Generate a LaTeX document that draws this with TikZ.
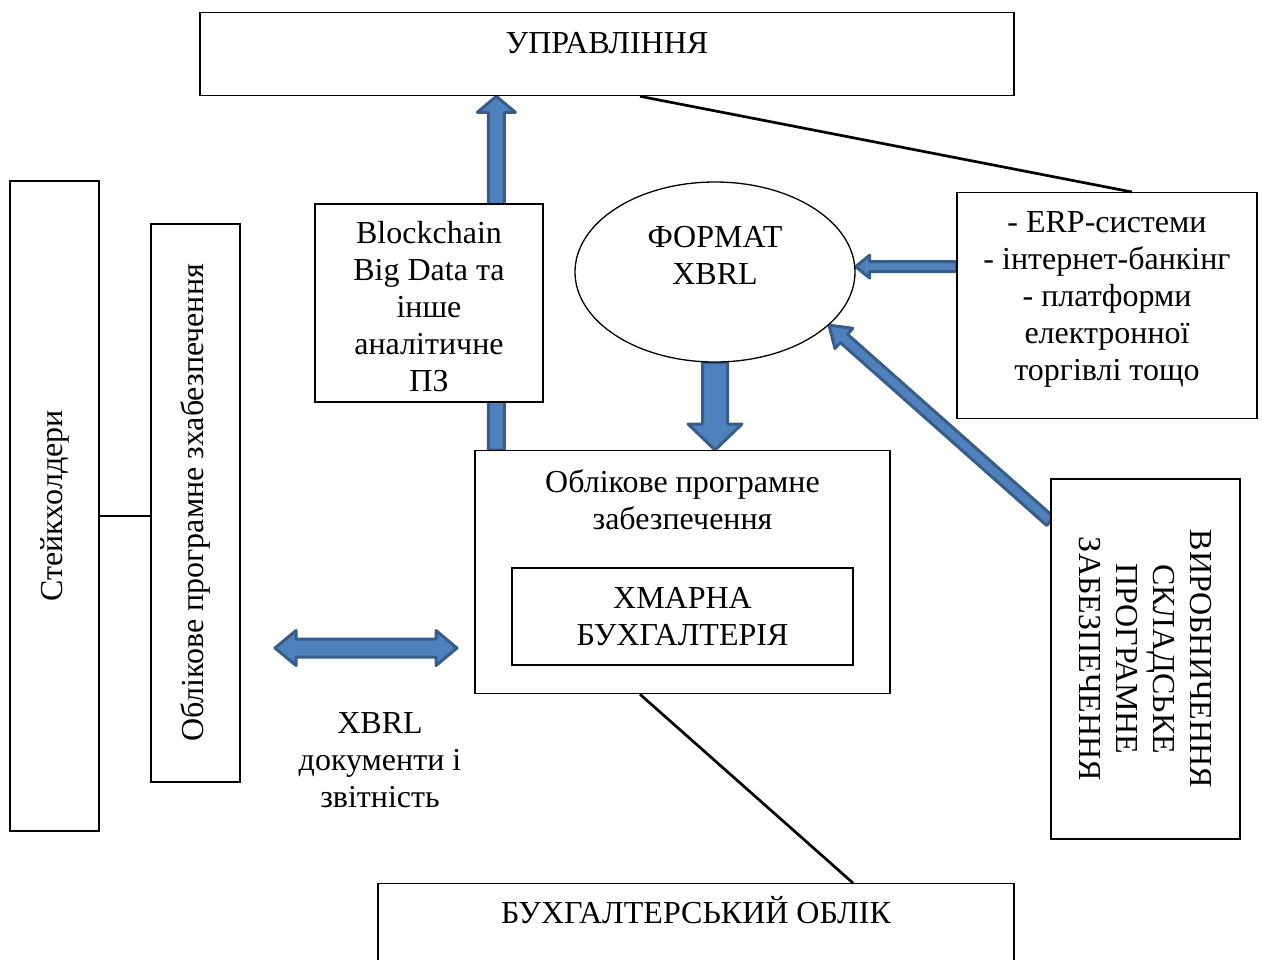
\documentclass[tikz,border=0pt]{standalone}
\usepackage{fontspec}
\setmainfont{Liberation Serif}
\usepackage{xcolor}
\usetikzlibrary{shapes.geometric, calc, backgrounds}

\definecolor{arrowfill}{HTML}{4F81BD}
\definecolor{arrowline}{HTML}{385D8A}

% block arrow: from, to, half shaft, half head, head length
\newcommand{\blockarrow}[5]{%
  \coordinate (ba-c) at ($(#2)!#5!(#1)$);
  \filldraw[fatarrow] ($(#1)!#3!90:(#2)$) -- ($(ba-c)!#3!90:(#2)$) -- ($(ba-c)!#4!90:(#2)$) -- (#2)
    -- ($(ba-c)!#4!-90:(#2)$) -- ($(ba-c)!#3!-90:(#2)$) -- ($(#1)!#3!-90:(#2)$) -- cycle;}
% two-headed block arrow
\newcommand{\blockdarrow}[5]{%
  \coordinate (ba-a) at ($(#1)!#5!(#2)$);
  \coordinate (ba-b) at ($(#2)!#5!(#1)$);
  \filldraw[fatarrow] (#1) -- ($(ba-a)!#4!90:(#2)$) -- ($(ba-a)!#3!90:(#2)$) -- ($(ba-b)!#3!90:(#2)$)
    -- ($(ba-b)!#4!90:(#2)$) -- (#2) -- ($(ba-b)!#4!-90:(#2)$) -- ($(ba-b)!#3!-90:(#2)$)
    -- ($(ba-a)!#3!-90:(#2)$) -- ($(ba-a)!#4!-90:(#2)$) -- cycle;}

\begin{document}
\begin{tikzpicture}[
  x=0.5pt, y=-0.5pt,
  font=\fontsize{16}{18.5}\selectfont,
  box/.style={rectangle, draw, line width=0.65pt, fill=white, inner sep=0pt, align=center},
  topbox/.style={box, anchor=north},
  oval/.style={ellipse, draw, line width=0.65pt, fill=white, inner sep=0pt, align=center},
  link/.style={draw, line width=1.35pt},
  fatarrow/.style={fill=arrowfill, draw=arrowline, line width=1.5pt, line join=round}
]
  \useasboundingbox (0,0) rectangle (1262,959);

  \node [topbox, minimum width=407pt, inner ysep=9.25pt, text height=11pt, text depth=12pt] (upr) at (607,12) {УПРАВЛІННЯ};
  \node [box, rotate=90, minimum width=325pt, minimum height=44.5pt] (stk) at (54.5,506) {Стейкхолдери};
  \node [box, rotate=90, minimum width=279pt, minimum height=44.5pt] (ops) at (195.5,503) {Облікове програмне зхабезпечення};
  \node [box, minimum width=114pt, minimum height=99pt, text height=89pt, text depth=1pt] (blk) at (429,303) {Blockchain\\Big Data та\\інше\\аналітичне\\ПЗ};
  \node [oval, minimum width=140pt, minimum height=90pt, text height=30pt, text depth=17.5pt] (fmt) at (715,272) {ФОРМАТ\\XBRL};
  \node [topbox, minimum width=150pt, inner ysep=8.75pt, text height=85pt, text depth=10.5pt] (erp) at (1107,192) {- ERP-системи\\- інтернет-банкінг\\- платформи\\електронної\\торгівлі тощо};
  \node [topbox, minimum width=207.5pt, inner ysep=9.75pt, text height=29.5pt, text depth=72.5pt] (obl) at (682.5,450) {Облікове програмне\\забезпечення};
  \node [box, minimum width=170.5pt, minimum height=48.5pt] (xmb) at (682.5,616.5) {ХМАРНА\\БУХГАЛТЕРІЯ};
  \node [box, rotate=-90, minimum width=180pt, minimum height=94.5pt] (vyr) at (1145.5,659) {ВИРОБНИЧЕННЯ\\СКЛАДСЬКЕ\\ПРОГРАМНЕ\\ЗАБЕЗПЕЧЕННЯ};
  \node [topbox, minimum width=318pt, inner ysep=8.75pt, text height=11pt, text depth=17.5pt] (bkh) at (696,883) {БУХГАЛТЕРСЬКИЙ ОБЛІК};
  \node [align=center, inner sep=0pt] (xdoc) at (380,760) {XBRL\\документи і\\звітність};

  % plain links
  \draw [link] ($(upr.south)+(33,0)$) -- ($(erp.north)+(25,0)$);
  \draw [link] ($(stk.south)+(0,10)$) -- ($(ops.north)+(0,13)$);
  \draw [link] ($(obl.south)+(-42.5,0)$) -- ($(bkh.north)+(157,0)$);

  % block arrows
  \begin{scope}[on background layer]
    \coordinate (up-s) at ($(obl.north west)+(22,0)$);
    \coordinate (up-e) at (up-s |- upr.south);
    \blockarrow{up-s}{up-e}{4pt}{9.5pt}{8pt}
    \coordinate (dn-e) at (fmt.south |- obl.north);
    \blockarrow{fmt.south}{dn-e}{6.25pt}{13.5pt}{13pt}
    \coordinate (lf-s) at ($(erp.west)+(0,-39)$);
    \coordinate (lf-e) at (fmt.east |- lf-s);
    \blockarrow{lf-s}{lf-e}{2.5pt}{5.75pt}{7pt}
    \coordinate (dg-s) at ($(vyr.south west)+(0,43)$);
    \blockarrow{dg-s}{fmt.-25}{2.75pt}{6.75pt}{10pt}
    \coordinate (dl) at (275,648);
    \coordinate (dr) at (457,648);
    \blockdarrow{dl}{dr}{4.5pt}{8.75pt}{10.5pt}
  \end{scope}
\end{tikzpicture}
\end{document}
